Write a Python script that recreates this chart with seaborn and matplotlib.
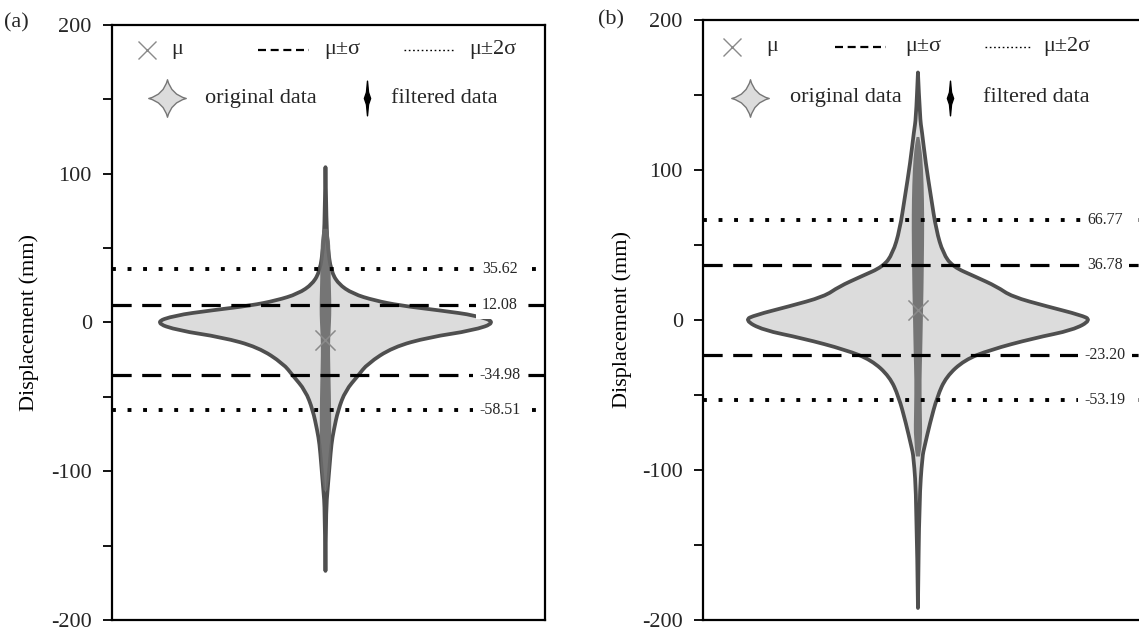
import numpy as np
import seaborn as sns
import matplotlib.pyplot as plt
from matplotlib.path import Path
from matplotlib.patches import PathPatch
from matplotlib.transforms import blended_transform_factory

# ===============================
# 1. DATA
# ===============================
# violin profiles: displacement levels (mm) and relative density (peak = 1)
a_orig_y = [104.4, 63, 50, 35, 26, 19.3, 14.8, 11.4, 8.1, 4.7, 0, -5.4, -9.9,
            -16.6, -27.8, -35.7, -45.8, -58.8, -72.7, -81.5, -95, -113, -125, -167]
a_orig_w = [0.0, 0.006, 0.014, 0.032, 0.074, 0.16, 0.287, 0.436, 0.67, 0.883, 1.0,
            0.862, 0.606, 0.394, 0.245, 0.191, 0.117, 0.074, 0.048, 0.035, 0.025,
            0.012, 0.004, 0.0]
a_filt_y = [63, 58, 45, 30, 15, 5, -5, -15, -30, -50, -70, -95, -105, -113]
a_filt_w = [0.012, 0.025, 0.03, 0.03, 0.034, 0.034, 0.03, 0.026, 0.028, 0.032,
            0.034, 0.03, 0.022, 0.01]

b_orig_y = [165, 134, 126.7, 104.4, 82.2, 60, 44.4, 35.6, 28.9, 22.2, 15.6, 8.9,
            3.3, 0, -6.7, -12.2, -20, -26.7, -37.8, -51.1, -68.9, -84.4, -91, -120, -192]
b_orig_w = [0.0, 0.012, 0.022, 0.045, 0.075, 0.105, 0.145, 0.2, 0.33, 0.456, 0.54,
            0.749, 0.937, 1.0, 0.895, 0.665, 0.414, 0.268, 0.163, 0.111, 0.069,
            0.038, 0.025, 0.008, 0.0]
b_filt_y = [122, 115, 100, 80, 60, 40, 20, 0, -20, -40, -60, -80, -91]
b_filt_w = [0.008, 0.02, 0.03, 0.035, 0.036, 0.034, 0.032, 0.028, 0.025, 0.02,
            0.022, 0.025, 0.012]

# mean and sigma bands
a_mean = -11.45
a_sigma = [12.08, -34.98]
a_sigma2 = [35.62, -58.51]
b_mean = 6.79
b_sigma = [36.78, -23.20]
b_sigma2 = [66.77, -53.19]

y_ticks = [-200, -100, 0, 100, 200]
y_minor = [-150, -50, 50, 150]

# ===============================
# 2. STYLE
# ===============================
sns.set_theme(style="ticks")
plt.rcParams["font.family"] = ["Liberation Serif", "DejaVu Serif"]
plt.rcParams["axes.unicode_minus"] = False

LIGHT = "#dcdcdc"
OUTLINE = "#4f4f4f"
DARK = "#6a6a6a"
MEAN_C = "#8a8a8a"
DOTTED = (0, (1, 3))
DASHED = (0, (6, 3.3))

# legend icons
star = Path(
    [(0, 1), (0.2, 0.2), (1, 0), (0.2, -0.2), (0, -1), (-0.2, -0.2), (-1, 0),
     (-0.2, 0.2), (0, 1), (0, 1)],
    [Path.MOVETO] + [Path.CURVE3] * 8 + [Path.CLOSEPOLY],
)
spindle = Path(
    [(0, 1), (0.06, 0.35), (0.18, 0), (0.06, -0.35), (0, -1), (-0.06, -0.35),
     (-0.18, 0), (-0.06, 0.35), (0, 1)],
    closed=True,
)


def side_path(ys, ws, first_code):
    # smooth outline through the profile points (quadratic b-spline)
    pts = list(zip(ws, ys))
    verts, codes = [pts[0]], [first_code]
    for i in range(1, len(pts) - 1):
        mid = ((pts[i][0] + pts[i + 1][0]) / 2, (pts[i][1] + pts[i + 1][1]) / 2)
        verts += [pts[i], mid]
        codes += [Path.CURVE3, Path.CURVE3]
    verts.append(pts[-1])
    codes.append(Path.LINETO)
    return verts, codes


def violin_path(ys, ws):
    ws = np.array(ws, dtype=float)
    v1, c1 = side_path(list(ys), list(ws), Path.MOVETO)
    v2, c2 = side_path(list(ys)[::-1], list(-ws[::-1]), Path.LINETO)
    return Path(v1 + v2 + [v1[0]], c1 + c2 + [Path.CLOSEPOLY])


def draw_violins(ax, oy, ow, fy, fw, mean):
    ax.add_patch(PathPatch(violin_path(oy, ow), facecolor=LIGHT, edgecolor=OUTLINE,
                           linewidth=2.7, joinstyle="round", zorder=2))
    ax.add_patch(PathPatch(violin_path(fy, fw), facecolor=DARK, edgecolor="none",
                           alpha=0.9, zorder=3))
    sns.scatterplot(x=[0], y=[mean], marker="x", s=210, color=MEAN_C,
                    linewidth=1.1, ax=ax, zorder=6)


def draw_bands(ax, sigma, sigma2):
    trans = blended_transform_factory(ax.transAxes, ax.transData)
    for v in sigma2:
        ax.axhline(v, color="black", lw=2.8, ls=DOTTED, zorder=4)
    for v in sigma:
        ax.axhline(v, color="black", lw=2.3, ls=DASHED, zorder=4)
    for v in sigma + sigma2:
        ax.text(0.895, v, f"{v:.2f}", transform=trans, ha="center", va="center",
                fontsize=11.5, zorder=5,
                bbox=dict(facecolor="white", edgecolor="none",
                          boxstyle="square,pad=0.4"))


def draw_key(ax, xs, y1, y2):
    # xs: x_mu, t_mu, dash0, dash1, t_sig, dot0, dot1, t_sig2, x_orig, t_orig, x_filt, t_filt
    kw = dict(transform=ax.transAxes, clip_on=False, zorder=7)
    tk = dict(transform=ax.transAxes, va="center", ha="left", fontsize=16, zorder=7)
    ax.plot([xs[0]], [y1], marker="x", ms=13, mew=1.0, color=MEAN_C, ls="none", **kw)
    ax.text(xs[1], y1, "μ", **tk)
    ax.plot([xs[2], xs[3]], [y1, y1], color="black", lw=1.6, ls=(0, (3.6, 2.1)), **kw)
    ax.text(xs[4], y1, "μ±σ", **tk)
    ax.plot([xs[5], xs[6]], [y1, y1], color="black", lw=1.0, ls=(0, (1.2, 1.9)), **kw)
    ax.text(xs[7], y1, "μ±2σ", **tk)
    ax.plot([xs[8]], [y2], marker=star, ms=27, mfc=LIGHT, mec="#777777", mew=1.0,
            ls="none", **kw)
    ax.text(xs[9], y2, "original data", **tk)
    ax.plot([xs[10]], [y2], marker=spindle, ms=25, mfc="black", mec="black",
            ls="none", **kw)
    ax.text(xs[11], y2, "filtered data", **tk)


def style_axes(ax, xlim, label_x):
    ax.set_xlim(*xlim)
    ax.set_ylim(-200, 200)
    ax.set_xticks([])
    ax.set_yticks(y_ticks)
    ax.set_yticklabels([str(t) for t in y_ticks])
    ax.set_yticks(y_minor, minor=True)
    ax.tick_params(axis="y", which="both", direction="out", length=6.5, width=1.3,
                   color="black", labelsize=16, pad=8, left=True)
    for sp in ax.spines.values():
        sp.set_visible(True)
        sp.set_color("black")
        sp.set_linewidth(1.6)
    ax.set_ylabel("Displacement (mm)", fontsize=16, color="black")
    ax.yaxis.set_label_coords(label_x, 0.5)
    ax.set_facecolor("white")
    ax.grid(False)


# ===============================
# 3. FIGURE
# ===============================
fig = plt.figure(figsize=(11.39, 6.32), dpi=100)
fig.patch.set_facecolor("white")
ax_a = fig.add_axes([0.0983, 0.019, 0.3806, 0.9415])
ax_b = fig.add_axes([0.6172, 0.019, 0.3942, 0.9494])

# panel (a)
draw_violins(ax_a, a_orig_y, a_orig_w, a_filt_y, a_filt_w, a_mean)
draw_bands(ax_a, a_sigma, a_sigma2)
style_axes(ax_a, (-1.2485, 1.2865), -0.168)
draw_key(ax_a, [0.081, 0.136, 0.337, 0.454, 0.489, 0.674, 0.791, 0.824,
                0.127, 0.2145, 0.588, 0.644], 0.958, 0.877)

# panel (b)
draw_violins(ax_b, b_orig_y, b_orig_w, b_filt_y, b_filt_w, b_mean)
draw_bands(ax_b, b_sigma, b_sigma2)
style_axes(ax_b, (-1.239, 1.349), -0.158)
draw_key(ax_b, [0.0646, 0.140, 0.294, 0.408, 0.450, 0.628, 0.733, 0.757,
                0.105, 0.194, 0.550, 0.624], 0.955, 0.870)

fig.text(0.014, 0.9636, "(a)", fontsize=16, ha="center", va="center")
fig.text(0.5364, 0.968, "(b)", fontsize=16, ha="center", va="center")

fig.savefig("out.png", dpi=100)
